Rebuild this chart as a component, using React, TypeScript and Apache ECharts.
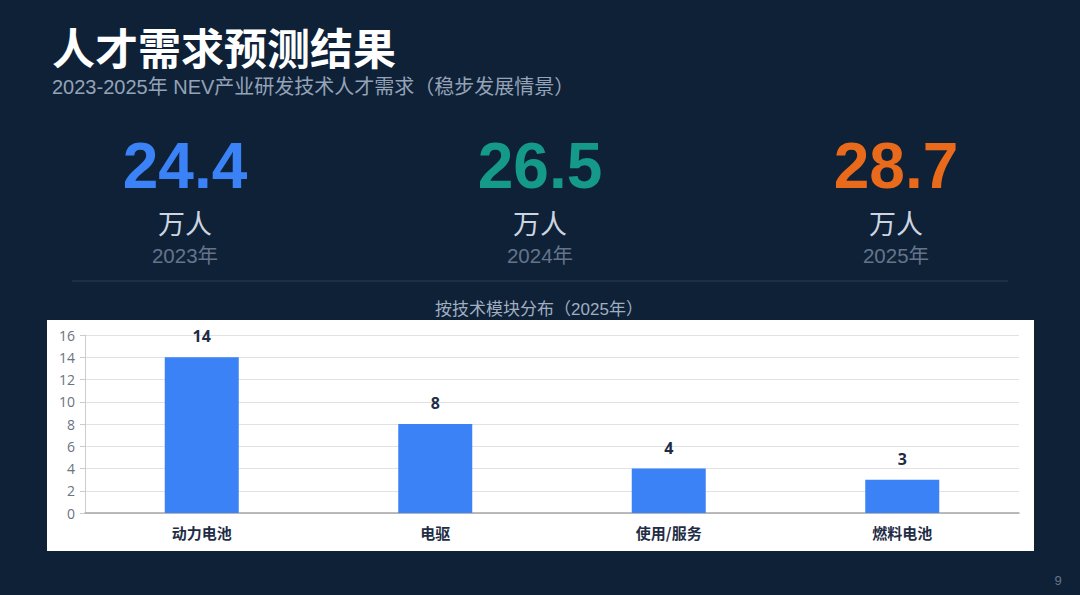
import React, { useEffect, useRef } from "react";
import * as echarts from "echarts";

const categories = ["动力电池", "电驱", "使用/服务", "燃料电池"];
const values = [14, 8, 4, 3];
const yTicks = [0, 2, 4, 6, 8, 10, 12, 14, 16];
const kpiValues = ["24.4", "26.5", "28.7"];
const kpiYears = ["2023年", "2024年", "2025年"];
const kpiColors = ["#3b82f6", "#14998a", "#ea6a1c"];
const kpiX = [185, 540, 896];

export default function App() {
  const ref = useRef<HTMLDivElement>(null);
  useEffect(() => {
    document.body.style.margin = "0";
    const chart = echarts.init(ref.current!, null, { renderer: "svg" });
    const graphics: any[] = [
      { type: "rect", z: -10, shape: { x: 0, y: 0, width: 1080, height: 595 }, style: { fill: "#0f2137" } },
      { type: "rect", z: -9, shape: { x: 47, y: 320, width: 987, height: 231 }, style: { fill: "#ffffff" } },
      {
        type: "text", x: 52, y: 46,
        style: { text: "人才需求预测结果", fill: "#ffffff", font: 'bold 43px "Noto Sans CJK SC", sans-serif', verticalAlign: "middle" },
      },
      {
        type: "text", x: 52, y: 87,
        style: { text: "2023-2025年 NEV产业研发技术人才需求（稳步发展情景）", fill: "#94a3b8", font: '20px "Liberation Sans", "Noto Sans CJK SC", sans-serif', verticalAlign: "middle" },
      },
      { type: "line", shape: { x1: 72, y1: 281, x2: 1008, y2: 281 }, style: { stroke: "#2b3f5c", lineWidth: 1 } },
      {
        type: "text", x: 539, y: 309,
        style: { text: "按技术模块分布（2025年）", fill: "#a0aec0", font: '17px "Liberation Sans", "Noto Sans CJK SC", sans-serif', align: "center", verticalAlign: "middle" },
      },
      {
        type: "text", x: 1058, y: 580,
        style: { text: "9", fill: "#64748b", font: '13px "Liberation Sans", sans-serif', align: "center", verticalAlign: "middle" },
      },
    ];
    kpiValues.forEach((v, i) => {
      graphics.push({
        type: "text", x: kpiX[i], y: 166,
        style: { text: v, fill: kpiColors[i], font: 'bold 64px "Liberation Sans", Arial, sans-serif', align: "center", verticalAlign: "middle" },
      });
      graphics.push({
        type: "text", x: kpiX[i], y: 222,
        style: { text: "万人", fill: "#cbd5e1", font: '27px "Noto Sans CJK SC", sans-serif', align: "center", verticalAlign: "middle" },
      });
      graphics.push({
        type: "text", x: kpiX[i], y: 255,
        style: { text: kpiYears[i], fill: "#64748b", font: '20.5px "Liberation Sans", "Noto Sans CJK SC", sans-serif', align: "center", verticalAlign: "middle" },
      });
    });

    chart.setOption({
      animation: false,
      backgroundColor: "transparent",
      graphic: { elements: graphics },
      grid: { left: 85, right: 61, top: 335, bottom: 82, containLabel: false },
      xAxis: {
        type: "category",
        data: categories,
        axisLine: { lineStyle: { color: "#a6a6a6", width: 1.5 } },
        axisTick: { alignWithLabel: true, length: 4, lineStyle: { color: "#cccccc" } },
        axisLabel: { color: "#1e2d45", fontWeight: "bold", fontSize: 15, margin: 12, fontFamily: '"Noto Sans CJK SC", sans-serif' },
      },
      yAxis: {
        type: "value",
        min: yTicks[0],
        max: yTicks[yTicks.length - 1],
        interval: 2,
        axisLine: { show: true, lineStyle: { color: "#cccccc" } },
        axisTick: { show: true, length: 5, lineStyle: { color: "#cccccc" } },
        axisLabel: { color: "#6b7280", fontSize: 14, margin: 10, fontFamily: '"Open Sans", sans-serif' },
        splitLine: { lineStyle: { color: "#e2e2e2" } },
      },
      series: [
        {
          type: "bar",
          data: values,
          barWidth: 74,
          itemStyle: { color: "#3b82f6" },
          label: {
            show: true,
            position: "top",
            distance: 13,
            color: "#1e2d45",
            fontWeight: "bold",
            fontSize: 16,
            fontFamily: '"Open Sans", sans-serif',
          },
        },
      ],
    });
    return () => chart.dispose();
  }, []);
  return <div ref={ref} style={{ width: 1080, height: 595, position: "absolute", left: 0, top: 0 }} />;
}
